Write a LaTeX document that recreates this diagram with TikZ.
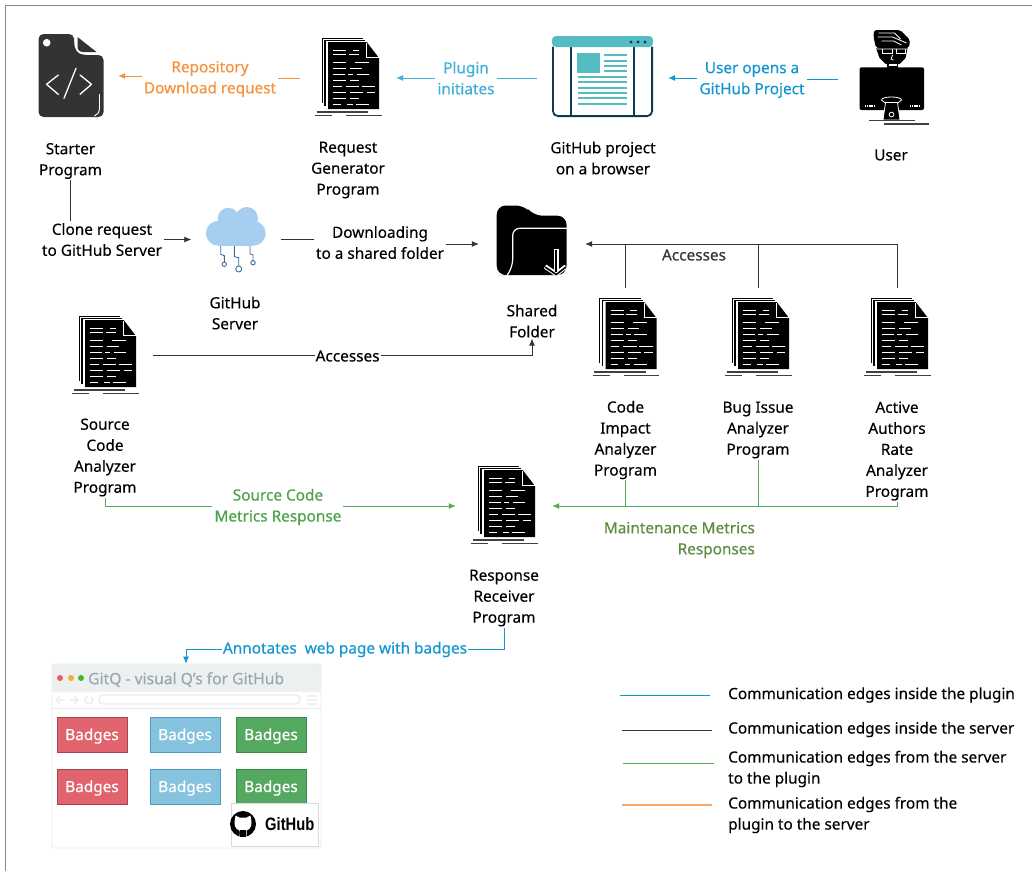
\documentclass[tikz,border=0pt]{standalone}
\usepackage{xcolor}
\usepackage{fontspec}
\setmainfont{Noto Sans}[FakeBold = 0.25]
\newfontfamily\hubfont{Liberation Sans}
\usepackage{tikz}
\usetikzlibrary{arrows.meta}
\usetikzlibrary{positioning, shapes.geometric, backgrounds}
\definecolor{framegray}{HTML}{888888}
\definecolor{orangeedge}{HTML}{F7923A}
\definecolor{orangekey}{HTML}{F9A566}
\definecolor{lightplugin}{HTML}{3FAEDB}
\definecolor{pluginblue}{HTML}{1296D2}
\definecolor{greenedge}{HTML}{4CA24A}
\definecolor{greenline}{HTML}{55AC55}
\definecolor{olivegreen}{HTML}{5B8C3E}
\definecolor{serveredge}{HTML}{333333}
\definecolor{startergray}{HTML}{333331}
\definecolor{browserteal}{HTML}{55BCC4}
\definecolor{browserdark}{HTML}{0D3B50}
\definecolor{cloudblue}{HTML}{A6CEF0}
\definecolor{cloudwire}{HTML}{3D6E9E}
\definecolor{mockbar}{HTML}{ECF0F1}
\definecolor{mocktext}{HTML}{9AA9A9}
\definecolor{mockline}{HTML}{E8ECEC}
\definecolor{dotred}{HTML}{F05A67}
\definecolor{dotorange}{HTML}{F0B429}
\definecolor{dotgreen}{HTML}{3DBB1F}
\definecolor{badgered}{HTML}{E0636E}
\definecolor{badgeredline}{HTML}{A84450}
\definecolor{badgeblue}{HTML}{85C3DE}
\definecolor{badgeblueline}{HTML}{4E9CC0}
\definecolor{badgegreen}{HTML}{55A860}
\definecolor{badgegreenline}{HTML}{3F8A4A}
\tikzset{
caption/.style = { align = center, text = black, font = \fontsize{15.35}{21}\selectfont, inner sep = 1pt },
edge label/.style = { align = center, fill = white, font = \fontsize{15.35}{21}\selectfont, inner sep = 2pt },
doc box/.style = { minimum width = 96pt, minimum height = 98pt, inner sep = 0pt },
icon box/.style args={#1, #2}{ minimum width = #1, minimum height = #2, inner sep = 0pt },
request edge/.style = { orangeedge, line width = 0.8pt },
plugin edge/.style = { lightplugin, line width = 0.8pt },
open edge/.style = { pluginblue, line width = 0.8pt },
server edge/.style = { serveredge, line width = 0.8pt },
response edge/.style = { greenline, line width = 0.8pt },
tip/.style = { -{Latex[length = 7pt, width = 6pt]} },
badge/.style args={#1, #2}{ rectangle, draw = #2, fill = #1, line width = 0.8pt, text = white, minimum width = 70pt, minimum height = 35pt, inner sep = 0pt, text height = 13pt, text depth = 2pt, font = \fontsize{15.35}{16}\selectfont },
}
\tikzset{
pics/doc stack/.style = {
        code = {
        \path[fill = black] (-26.5, -39.5) rectangle (15, 26);
        \path[fill = white] (-25.1, -38.2) rectangle (16, 27);
        \path[fill = black] (-24, -37.3) rectangle (17, 29);
        \path[fill = white] (-22.4, -36) rectangle (18, 30);
        \path[fill = black] (-20, -35) -- (18.7, -35) -- (31, -19) -- (31, 32) -- (-20, 32) -- cycle;
        \draw[white, line width = 0.8pt] (18.7, -34) -- (18.7, -19.5) -- (31, -19.5);
        \draw[white, line width = 1pt]
          (-15, -27) -- (-2, -27) (4.7, -27) -- (11.3, -27)
          (-15, -22.7) -- (-2, -22.7) (0.7, -22.7) -- (11.3, -22.7)
          (-15, -15) -- (-2, -15) (7, -15) -- (21.3, -15)
          (-15, -9) -- (-2, -9) (2, -9) -- (13.7, -9)
          (-15, -3) -- (-3, -3) (0.3, -3) -- (5, -3) (8.7, -3) -- (21.3, -3)
          (-15, 3) -- (-2, 3) (2, 3) -- (11.3, 3)
          (-15, 9) -- (-6.3, 9) (-2.3, 9) -- (11.3, 9) (13.7, 9) -- (27, 9)
          (-15, 15.3) -- (-2, 15.3) (2, 15.3) -- (15.3, 15.3) (18.7, 15.3) -- (27, 15.3)
          (-15, 21.3) -- (-2, 21.3) (2, 21.3) -- (11.3, 21.3)
          (-15, 27.3) -- (-7.3, 27.3) (-0.7, 27.3) -- (4.7, 27.3) (8, 27.3) -- (21.3, 27.3);
        \draw[black!75, line width = 1.2pt] (-31.3, 35) -- (20, 35) (-33, 38.7) -- (-15.7, 38.7) (-2, 38.7) -- (33.7, 38.7);
        }
    },
pics/code file/.style = {
        code = {
        \path[fill = startergray, rounded corners = 5pt] (-32, -42) -- (3.5, -42) -- (3.5, -34) -- (5, -24) -- (12, -21) -- (33, -21) -- (33, 41) -- (-32, 41) -- cycle;
        \path[fill = startergray] (7, -39) -- (26, -24) -- (13, -24) .. controls (9, -24) and (7, -26) .. (7, -30) -- cycle;
        \path[fill = white] (-23.8, -33.3) circle (3.8);
        \draw[white, line width = 0.9pt] (29, 18) -- (29, 32) .. controls (29, 36) and (27, 39) .. (24, 40);
        \draw[white, line width = 1.3pt, line cap = round, line join = round]
          (-12.2, -1) -- (-24, 8.3) -- (-12.2, 18.3)
          (5.5, -7.7) -- (-6.5, 22.3)
          (9.5, -1) -- (21, 8.3) -- (9.5, 18.3);
        }
    },
pics/project page/.style = {
        code = {
        \draw[browserdark, line width = 1.8pt, rounded corners = 5pt] (-49.6, -30) -- (-49.6, 39.6) -- (49.6, 39.6) -- (49.6, -30);
        \draw[browserdark, line width = 1.8pt] (-31.5, -30) -- (-31.5, 39.6) (31.5, -30) -- (31.5, 39.6);
        \path[fill = browserteal, rounded corners = 4pt] (-50.5, -29.5) -- (-50.5, -40.5) -- (50.5, -40.5) -- (50.5, -29.5) -- cycle;
        \path[fill = browserdark] (28.5, -34.5) circle (1.7) (35.5, -34.5) circle (1.7) (42.5, -34.5) circle (1.7);
        \path[fill = browserteal] (-25.5, -23.5) rectangle (-2.5, -3.5);
        \draw[browserteal, line width = 2.4pt]
          (1.5, -21.5) -- (24.5, -21.5) (1.5, -15.5) -- (24.5, -15.5) (1.5, -10.5) -- (24.5, -10.5) (1.5, -5.5) -- (24.5, -5.5)
          (-24.5, 0.5) -- (24.5, 0.5) (-24.5, 5.5) -- (24.5, 5.5) (-24.5, 11.5) -- (24.5, 11.5)
          (-24.5, 16.5) -- (24.5, 16.5) (-24.5, 21.5) -- (24.5, 21.5) (-24.5, 27.5) -- (24.5, 27.5);
        }
    },
pics/user figure/.style = {
        code = {
        % hair and head
        \path[fill = black, rounded corners = 2pt] (-17.5, -49) -- (8.5, -49) -- (18.5, -39) -- (17.5, -31) -- (-15.5, -31) -- (-18, -42) -- cycle;
        \draw[white, line width = 0.8pt] (-13, -46) -- (3, -46) -- (9, -40) (-14, -42) -- (1, -42) -- (15, -36) (-10, -38) -- (2, -38) -- (10, -34);
        \path[fill = black] (-15.5, -31) -- (16, -31) -- (14, -21) -- (8, -15) -- (-6, -15) -- (-12, -21) -- cycle;
        \path[fill = black] (-5, -15) rectangle (6, -11);
        \draw[white, line width = 0.8pt] (-9, -30) rectangle (1, -25.5) (5, -30) rectangle (14, -25.5) (-15.5, -30) -- (16, -30) (1, -24) -- (-0.5, -20) -- (2, -19);
        \draw[white, line width = 1.1pt] (-3, -14) -- (5, -14);
        % monitor
        \path[fill = black, rounded corners = 2pt] (-32, -11.7) rectangle (32.5, 31);
        \draw[white, line width = 1.3pt, dash pattern = on 1.4pt off 0.9pt] (-27, 27) -- (-17, 27) (18, 27) -- (28, 27);
        \path[fill = black, draw = white, line width = 0.8pt] (-10, 21) .. controls (-10, 17) and (10, 17) .. (10, 21) -- (7, 23.5) -- (-7, 23.5) -- cycle;
        \path[fill = black, draw = white, line width = 0.8pt] (-6, 23.5) -- (6, 23.5) -- (8.5, 41) -- (-8.5, 41) -- cycle;
        \draw[white, line width = 0.8pt] (0, 35.5) circle (2.4);
        \draw[black!75, line width = 1.2pt] (-22.5, 41.7) -- (23, 41.7) (-8, 45) -- (37, 45);
        }
    },
pics/wired cloud/.style = {
        code = {
        \draw[cloudwire, line width = 0.9pt] (-15.3, 5) -- (-15.3, 15.3) -- (-11.7, 16.7) -- (-11.7, 23);
        \draw[cloudwire, line width = 0.9pt] (-1.7, 5) -- (-1.7, 17.7) -- (2.7, 18.7) -- (2.7, 27);
        \draw[cloudwire, line width = 0.9pt] (14, 5) -- (14, 14.7) -- (17, 16) -- (17, 21.5);
        \draw[cloudwire, line width = 0.9pt] (-11.7, 25.3) circle (2.2) (2.7, 30) circle (3) (17, 23.7) circle (2.2);
        \path[fill = cloudblue] (-17.7, -5.7) circle (12.4);
        \path[fill = cloudblue] (17.3, -5.7) circle (12.4);
        \path[fill = cloudblue] (-7.7, -20.7) circle (10.5);
        \path[fill = cloudblue] (10.7, -20.7) circle (11.3);
        \path[fill = cloudblue] (-17.7, -18) rectangle (17.3, 6.7);
        }
    },
pics/shared folder/.style = {
        code = {
        \path[fill = black, rounded corners = 9pt] (-25, 31) -- (-35.3, 31) -- (-35.3, -38.5) -- (-7, -38.5) -- (1.3, -28.3) -- (34.5, -28.3) -- (34.5, 31) -- cycle;
        \draw[white, line width = 1.2pt, rounded corners = 7pt] (-25.3, 32) -- (-19.3, 22) -- (-19.3, -15.7) -- (35, -15.7);
        \draw[white, line width = 5pt] (24.3, 5.3) -- (24.3, 26);
        \draw[white, line width = 4.5pt, line join = round] (13, 22.5) -- (24.3, 30) -- (34, 22.5);
        \draw[black, line width = 1.8pt] (24.3, 5.5) -- (24.3, 28);
        \draw[black, line width = 1.6pt] (13, 23) -- (24.3, 30.5) -- (34, 23);
        }
    },
pics/octo mark/.style = {
        code = {
        \path[fill = black] (0, 0) circle (13);
        \path[fill = white] (-7.5, -8.5) -- (-3.5, -6.5) -- (3.5, -6.5) -- (7.5, -8.5) -- (8.5, -2) .. controls (9, 4) and (5, 6) .. (3.5, 6.5) -- (3.5, 12.8) -- (-3.5, 12.8) -- (-3.5, 6.5) .. controls (-5, 6) and (-9, 4) .. (-8.5, -2) -- cycle;
        \path[fill = black] (-3, 5.5) rectangle (3, 13.2);
        \draw[black, line width = 1.2pt] (-3.5, 9) .. controls (-6.5, 10) and (-8, 8) .. (-9.5, 7);
        }
    }
}
\begin{document}
\begin{tikzpicture}[x = 1pt, y = -1pt]
      \useasboundingbox (0, 0) rectangle (1032, 871);
      \draw[framegray, line width = 0.9pt] (1032, 5) -- (5, 5) -- (5, 871);

      % icons of the first row
      \draw (70.5, 76) pic{code file};
      \draw (348, 77) pic{doc stack};
      \draw (602.5, 76.5) pic{project page};
      \draw (891.5, 79) pic{user figure};
      \node[icon box = {95pt, 90pt}] (starter) at (70.5, 76) {};
      \node[doc box] (request) at (348, 78) {};
      \node[icon box = {131pt, 90pt}] (browser) at (602.5, 78) {};
      \node[icon box = {107pt, 90pt}] (user) at (891.5, 79) {};
      \node[caption] (starter text) at (70.5, 161) {Starter\\Program};
      \node[caption] (request text) at (348, 170) {Request\\Generator\\Program};
      \node[caption] (browser text) at (603, 158) {GitHub project\\on a browser};
      \node[caption] (user text) at (891, 155) {User};

      % icons of the middle rows
      \draw (236, 239) pic{wired cloud};
      \draw (532, 244) pic{shared folder};
      \draw (105, 355) pic{doc stack};
      \draw (625.5, 337) pic{doc stack};
      \draw (758, 337) pic{doc stack};
      \draw (897, 337) pic{doc stack};
      \draw (504, 505) pic{doc stack};
      \node[icon box = {89pt, 60pt}] (cloud) at (236, 239.5) {};
      \node[icon box = {106pt, 60pt}] (folder) at (532, 244) {};
      \node[doc box] (source) at (105, 355) {};
      \node[doc box] (impact) at (625.5, 337) {};
      \node[doc box] (bug) at (758, 337) {};
      \node[doc box] (active) at (897, 337) {};
      \node[doc box] (response) at (504, 506) {};
      \node[caption] (cloud text) at (235, 313) {GitHub\\Server};
      \node[caption] (folder text) at (532, 321) {Shared\\Folder};
      \node[caption] (source text) at (105, 457.5) {Source\\Code\\Analyzer\\Program};
      \node[caption] (impact text) at (625.5, 440) {Code\\Impact\\Analyzer\\Program};
      \node[caption] (bug text) at (758, 430) {Bug Issue\\Analyzer\\Program};
      \node[caption] (active text) at (897, 451) {Active\\Authors\\Rate\\Analyzer\\Program};
      \node[caption] (response text) at (504, 598) {Response\\Receiver\\Program};

      % edges with labels of the first row
      \node[edge label, text = orangeedge] (repo label) at (210, 79) {Repository\\Download request};
      \node[edge label, text = lightplugin] (plugin label) at (466, 78) {Plugin\\initiates};
      \node[edge label, text = pluginblue] (open label) at (752, 80) {User opens a\\GitHub Project};
      \draw[request edge] (request.west) -- (repo label.east |- request.west);
      \draw[request edge, tip] (repo label.west |- starter.east) -- (starter.east);
      \draw[plugin edge] (browser.west) -- (plugin label.east |- browser.west);
      \draw[plugin edge, tip] (plugin label.west |- request.east) -- (request.east);
      \draw[open edge] (user.west) -- (open label.east |- user.west);
      \draw[open edge, tip] (open label.west |- browser.east) -- (browser.east);

      % edges of the server
      \node[edge label, text = black] (clone label) at (102, 239.5) {Clone request\\to GitHub Server};
      \node[edge label, text = black] (download label) at (380, 242.5) {Downloading\\to a shared folder};
      \node[caption, text = serveredge] (access label) at (694, 255) {Accesses};
      \draw[server edge] (starter text.south) -- (starter text.south |- clone label.north);
      \draw[server edge, tip] (clone label.east |- cloud.west) -- (cloud.west);
      \draw[server edge] (cloud.east) -- (download label.west |- cloud.east);
      \draw[server edge, tip] (download label.east |- folder.west) -- (folder.west);
      \draw[server edge, tip] (active.north) |- (folder.east);
      \draw[server edge] (impact.north) -- (impact.north |- folder.east);
      \draw[server edge] (bug.north) -- (bug.north |- folder.east);
      \draw[server edge, tip] (source.east) -| node[edge label, text = black, pos = 0.2566, inner sep = 1pt, yshift = -1pt] {Accesses} (folder text.south);

      % edges of the responses
      \draw[response edge, tip] (source text.south) |- node[edge label, text = greenedge, pos = 0.7465, yshift = -1pt] {Source Code\\Metrics Response} (response.west);
      \draw[response edge, tip] (active text.south) |- (response.east);
      \draw[response edge] (impact text.south) -- (impact text.south |- response.east);
      \draw[response edge] (bug text.south) -- (bug text.south |- response.east);
      \node[caption, align = right, text = olivegreen, anchor = east] (maintenance label) at (756, 540) {Maintenance Metrics\\Responses};

      % page with badges
      \node[rectangle, draw = mockline, fill = white, line width = 0.8pt, minimum width = 269pt, minimum height = 184pt, rounded corners = 2pt] (page) at (186.5, 756) {};
      \path[fill = mockbar, rounded corners = 2pt] (52, 692) -- (52, 664) -- (321, 664) -- (321, 692) -- cycle;
      \draw[mockline, line width = 0.8pt] (52, 708) -- (321, 708);
      \path[fill = dotred] (60, 678) circle (3);
      \path[fill = dotorange] (71, 678) circle (3);
      \path[fill = dotgreen] (81, 678) circle (3);
      \node[anchor = west, text = mocktext, inner sep = 0pt, font = \fontsize{15.65}{18}\selectfont] (page title) at (88, 679.5) {GitQ - visual Q's for GitHub};
      \draw[mockline, line width = 1.2pt, rounded corners = 4pt] (99, 695) rectangle (300, 704);
      \draw[mockline, line width = 1.3pt] (65, 700) -- (56, 700) (60, 696) -- (56, 700) -- (60, 704) (69, 700) -- (78, 700) (74, 696) -- (78, 700) -- (74, 704) (92, 697) arc (-40:250:4) (307, 696) -- (317, 696) (307, 700) -- (317, 700) (307, 704) -- (317, 704);
      \node[badge = {badgered, badgeredline}] (red top) at (92, 734.5) {Badges};
      \node[badge = {badgeblue, badgeblueline}] (blue top) at (185, 734.5) {Badges};
      \node[badge = {badgegreen, badgegreenline}] (green top) at (271, 734.5) {Badges};
      \node[badge = {badgered, badgeredline}] (red low) at (92, 786.5) {Badges};
      \node[badge = {badgeblue, badgeblueline}] (blue low) at (185, 786.5) {Badges};
      \node[badge = {badgegreen, badgegreenline}] (green low) at (271, 786.5) {Badges};
      \node[rectangle, draw = black!15, fill = white, line width = 0.8pt, minimum width = 87pt, minimum height = 43pt, inner sep = 0pt] (hub box) at (274.5, 824.5) {};
      \draw (243, 824) pic{octo mark};
      \node[anchor = west, inner sep = 0pt, xscale = 0.82, font = \hubfont\bfseries\fontsize{18}{18}\selectfont] (hub text) at (265, 824) {GitHub};

      % annotate edge
      \node[edge label, text = pluginblue, inner sep = 1pt] (annotate label) at (345, 649.5) {Annotates\ \ web page with badges};
      \draw[open edge] (response text.south) |- (annotate label.east);
      \draw[open edge, tip] (annotate label.west) -| ([xshift = -0.5pt]page.north);

      % legend
      \coordinate (plugin key a) at (620, 695);
      \coordinate (plugin key b) at (710, 695);
      \coordinate (server key a) at (622, 730);
      \coordinate (server key b) at (712, 730);
      \coordinate (response key a) at (623, 763);
      \coordinate (response key b) at (714, 763);
      \coordinate (request key a) at (622, 805);
      \coordinate (request key b) at (712, 805);
      \draw[open edge, line width = 1pt] (plugin key a) -- (plugin key b);
      \draw[server edge, line width = 1pt] (server key a) -- (server key b);
      \draw[response edge, line width = 1pt] (response key a) -- (response key b);
      \draw[orangekey, line width = 1.2pt] (request key a) -- (request key b);
      \node[caption, align = left, anchor = west, inner sep = 0pt] (plugin key text) at (728, 695) {Communication edges inside the plugin};
      \node[caption, align = left, anchor = west, inner sep = 0pt] (server key text) at (728, 729.5) {Communication edges inside the server};
      \node[caption, align = left, anchor = west, inner sep = 0pt] (response key text) at (728, 769) {Communication edges from the server\\to the plugin};
      \node[caption, align = left, anchor = west, inner sep = 0pt] (request key text) at (728, 815) {Communication edges from the\\plugin to the server};
\end{tikzpicture}
\end{document}
